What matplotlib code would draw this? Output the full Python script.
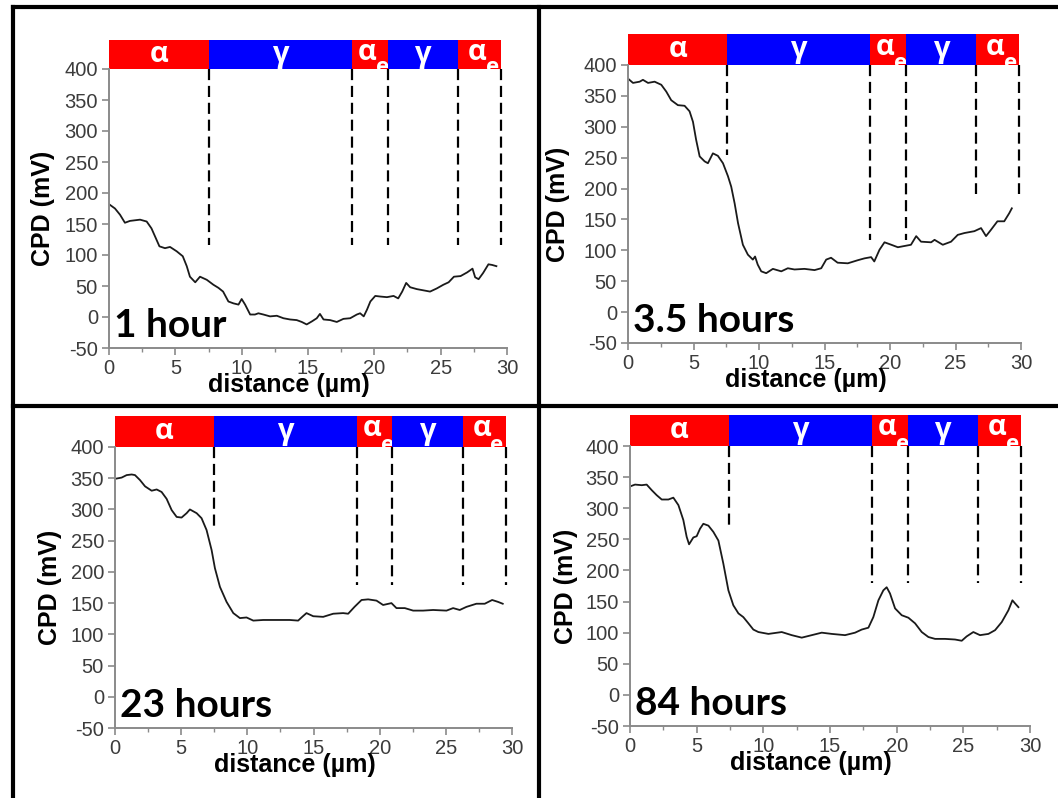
import matplotlib.pyplot as plt
from matplotlib.patches import Rectangle
from matplotlib.lines import Line2D

plt.rcParams['axes.unicode_minus'] = False

# panel titles
times = ["1 hour", "3.5 hours", "23 hours", "84 hours"]

# phase boundaries (um) for each panel
bounds_1 = [0, 7.54, 18.3, 21.0, 26.3, 29.56]
bounds_2 = [0, 7.58, 18.48, 21.2, 26.57, 29.85]
bounds_3 = [0, 7.45, 18.25, 20.94, 26.28, 29.52]
bounds_4 = [0, 7.4, 18.13, 20.83, 26.08, 29.33]
phases = ["α", "γ", "αe", "γ", "αe"]

# lower ends of the dashed boundary lines (mV)
dash_end_1 = [116, 116, 116, 116, 116]
dash_end_2 = [254, 117, 117, 191, 191]
dash_end_3 = [270, 179, 179, 179, 179]
dash_end_4 = [271, 180, 180, 180, 180]

# CPD profiles
x_1 = [0, 0.45, 0.83, 1.2, 1.58, 2.34, 2.84, 3.2, 3.47, 3.8, 4.22, 4.6, 5.1, 5.56, 5.86,
       6.1, 6.5, 6.86, 7.37, 7.87, 8.25, 8.6, 9.0, 9.38, 9.76, 10.0, 10.26, 10.64, 11.0,
       11.26, 11.64, 12.14, 12.65, 13.15, 13.65, 14.15, 14.53, 14.9, 15.3, 15.66, 15.9,
       16.17, 16.67, 17.17, 17.67, 18.18, 18.68, 18.93, 19.2, 19.45, 19.7, 20.07, 20.45,
       20.95, 21.45, 21.8, 22.1, 22.4, 22.7, 23.2, 23.7, 24.2, 24.7, 25.2, 25.6, 26.0,
       26.5, 27.0, 27.4, 27.6, 27.86, 28.2, 28.6, 28.87, 29.2]
y_1 = [182, 175, 165, 152, 155, 157, 154, 143, 130, 114, 111, 113, 106, 98, 82,
       65, 56, 65, 60, 52, 47, 41, 25, 22, 20, 29, 20, 4, 4,
       6, 4, 1, 2, -2, -4, -5, -8, -12, -7, -2, 5,
       -4, -5, -8, -3, -2, 4, 6, 1, 12, 25, 34, 33,
       32, 34, 30, 41, 55, 48, 45, 43, 41, 46, 52, 56, 65,
       66, 72, 78, 64, 61, 71, 85, 84, 82]

x_2 = [0, 0.38, 0.89, 1.14, 1.53, 2.03, 2.54, 2.92, 3.3, 3.81, 4.32, 4.7, 4.96, 5.2, 5.47,
       5.85, 6.1, 6.48, 6.86, 7.25, 7.63, 7.88, 8.14, 8.4, 8.77, 9.15, 9.53, 9.7, 9.9,
       10.17, 10.55, 11.06, 11.7, 12.2, 12.71, 13.47, 14.24, 14.75, 15.13, 15.5, 16.0,
       16.78, 17.54, 18.05, 18.56, 18.8, 19.2, 19.58, 20.1, 20.6, 21.1, 21.6, 22.0,
       22.37, 23.14, 23.4, 24.03, 24.66, 25.17, 25.68, 26.44, 26.95, 27.33, 27.7, 28.2,
       28.72, 29.1, 29.3]
y_2 = [378, 371, 373, 376, 371, 373, 368, 357, 343, 335, 334, 325, 308, 279, 252,
       244, 241, 257, 253, 241, 220, 203, 176, 144, 109, 93, 85, 90, 77,
       66, 63, 70, 66, 71, 69, 70, 68, 71, 85, 88, 80,
       79, 84, 87, 89, 82, 101, 113, 109, 105, 107, 109, 123,
       114, 113, 117, 109, 114, 125, 128, 131, 136, 123, 133, 147,
       147, 160, 168]

x_3 = [0, 0.5, 0.88, 1.26, 1.51, 1.89, 2.27, 2.77, 3.15, 3.52, 3.9, 4.28, 4.66, 5.03, 5.41,
       5.66, 6.17, 6.54, 6.92, 7.3, 7.55, 7.93, 8.43, 8.94, 9.44, 9.94, 10.45, 11.2, 12.2,
       13.2, 13.84, 14.2, 14.47, 14.98, 15.73, 16.49, 17.24, 17.62, 18.1, 18.63, 19.13,
       19.76, 20.26, 20.89, 21.27, 21.9, 22.53, 23.28, 24.04, 25.05, 25.55, 26.05, 26.56,
       27.31, 27.94, 28.5, 28.94, 29.3]
y_3 = [349, 351, 355, 356, 355, 347, 337, 330, 332, 328, 317, 299, 288, 287, 294,
       300, 294, 286, 267, 235, 206, 176, 152, 134, 126, 127, 122, 123, 123,
       123, 122, 129, 134, 129, 128, 133, 134, 133, 144, 155, 156,
       154, 147, 150, 142, 142, 138, 138, 139, 138, 142, 139, 144,
       149, 149, 155, 152, 149]

x_4 = [0, 0.38, 0.88, 1.25, 1.63, 2.0, 2.38, 2.88, 3.25, 3.63, 4.0, 4.25, 4.43, 4.75, 5.0,
       5.25, 5.5, 5.88, 6.25, 6.63, 7.0, 7.38, 7.75, 8.13, 8.5, 8.88, 9.25, 9.63, 10.38,
       11.38, 12.13, 12.88, 13.63, 14.38, 15.13, 16.13, 16.88, 17.38, 17.88, 18.25, 18.63,
       19.0, 19.25, 19.5, 19.88, 20.38, 20.88, 21.38, 21.88, 22.38, 22.88, 23.63, 24.38,
       24.88, 25.25, 25.75, 26.25, 26.88, 27.38, 27.88, 28.38, 28.68, 28.88, 29.13]
y_4 = [335, 338, 337, 338, 329, 321, 314, 314, 317, 305, 281, 254, 242, 253, 255,
       267, 275, 272, 262, 248, 211, 168, 144, 131, 125, 115, 105, 101, 98,
       101, 96, 92, 96, 100, 98, 96, 100, 105, 108, 125, 152,
       168, 173, 163, 139, 128, 124, 115, 101, 93, 90, 90, 89,
       87, 94, 101, 96, 98, 104, 117, 136, 152, 147, 141]

xs = [x_1, x_2, x_3, x_4]
ys = [y_1, y_2, y_3, y_4]
bounds = [bounds_1, bounds_2, bounds_3, bounds_4]
dash_ends = [dash_end_1, dash_end_2, dash_end_3, dash_end_4]

W, H = 1058, 798
# axes boxes in pixels: left, right, top, bottom
boxes = [(109, 507, 69, 348), (628, 1021, 65, 343),
         (115, 512, 447, 728), (630, 1030, 446, 726)]
bar_h = [47, 50, 50, 50]
ylab_x = [-0.136, -0.148, -0.134, -0.13]

greek = ['Open Sans', 'DejaVu Sans']
fig = plt.figure(figsize=(W / 100, H / 100), dpi=100)

for i in range(4):
    l, r, t, b = boxes[i]
    ax = fig.add_axes([l / W, 1 - b / H, (r - l) / W, (b - t) / H])
    ax.plot(xs[i], ys[i], color='#1a1a1a', lw=1.3)
    ax.set_xlim(0, 30)
    ax.set_ylim(-50, 400)
    ax.set_xticks(range(0, 31, 5))
    ax.set_xticks([2.5 + 5 * k for k in range(6)], minor=True)
    ax.set_yticks(range(-50, 401, 50))
    for s in ['top', 'right']:
        ax.spines[s].set_visible(False)
    for s in ['left', 'bottom']:
        ax.spines[s].set_color('#8a8a8a')
        ax.spines[s].set_linewidth(1.4)
    ax.tick_params(which='major', length=5, width=1.2, color='#8a8a8a',
                   labelsize=14.5, labelcolor='#3c3c3c', pad=3)
    ax.tick_params(which='minor', length=3, width=1.0, color='#8a8a8a')
    for lab in ax.get_xticklabels() + ax.get_yticklabels():
        lab.set_family('Liberation Sans')

    ax.set_xlabel("distance (µm)", fontsize=18, fontweight='bold',
                  family='Liberation Sans')
    ax.xaxis.set_label_coords(0.452, -0.09)
    ax.set_ylabel("CPD (mV)", fontsize=18, fontweight='bold',
                  family='Liberation Sans')
    ax.yaxis.set_label_coords(ylab_x[i], 0.5)

    # phase bar and dashed boundaries
    bd = bounds[i]
    h = bar_h[i]
    for k in range(5):
        col = '#ff0000' if phases[k].startswith('α') else '#0000ff'
        ax.add_patch(Rectangle((bd[k], 400), bd[k + 1] - bd[k], h,
                               facecolor=col, edgecolor='none', clip_on=False))
        xc = (bd[k] + bd[k + 1]) / 2
        if phases[k] == 'αe':
            ax.annotate('α', (xc, 400 + h * 0.58), xytext=(5, 0),
                        textcoords='offset points', ha='right', va='center',
                        color='white', fontsize=21, fontweight='bold',
                        family=greek, annotation_clip=False)
            ax.annotate('e', (xc, 400 - 6), xytext=(4.5, 0),
                        textcoords='offset points', ha='left', va='baseline',
                        color='white', fontsize=16, fontweight='bold',
                        family=greek, annotation_clip=False, zorder=1)
        else:
            ax.text(xc, 400 + h * 0.5, phases[k], ha='center', va='center',
                    color='white', fontsize=21, fontweight='bold',
                    family=greek, clip_on=False)
    for k in range(1, 6):
        ax.plot([bd[k], bd[k]], [400, dash_ends[i][k - 1]], color='black',
                lw=1.6, ls=(0, (5, 2.6)), clip_on=False, zorder=3)

    ax.text(0.012, 0.04, times[i], transform=ax.transAxes, fontsize=28,
            fontweight='bold', family=['Lato', 'DejaVu Sans'], color='black',
            va='baseline', ha='left')

# outer frame lines
lw = 3
fig.add_artist(Line2D([13 / W, 1], [1 - 6.5 / H] * 2, color='black', lw=lw))
fig.add_artist(Line2D([13 / W] * 2, [0, 1 - 6.5 / H], color='black', lw=lw))
fig.add_artist(Line2D([539 / W] * 2, [0, 1 - 6.5 / H], color='black', lw=lw))
fig.add_artist(Line2D([13 / W, 1], [1 - 406 / H] * 2, color='black', lw=lw))

fig.savefig("out.png", dpi=100)
